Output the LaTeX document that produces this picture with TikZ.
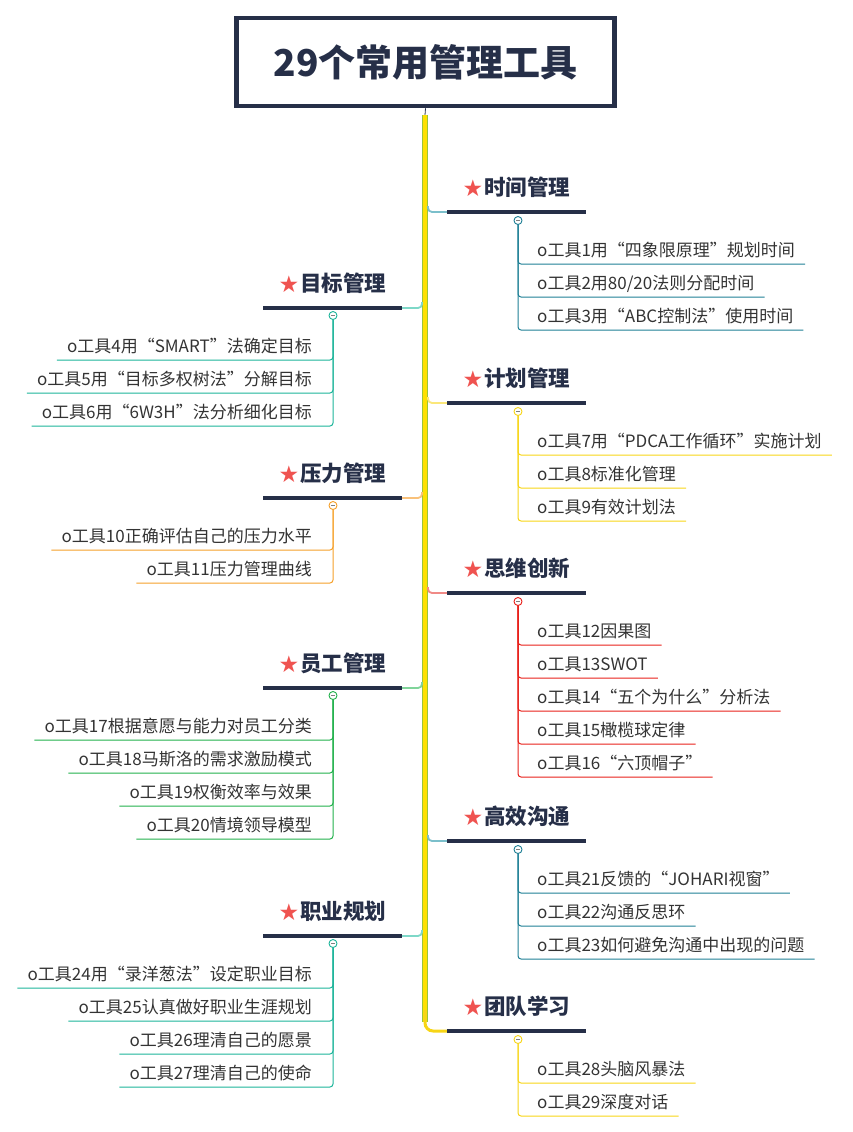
\documentclass[tikz,border=0pt]{standalone}
\usepackage{fontspec}
\setmainfont{Noto Sans CJK SC}
\newfontfamily\symfont{DejaVu Sans}
\usetikzlibrary{positioning}

\definecolor{navy}{HTML}{262F48}
\definecolor{starred}{HTML}{EF5350}
\definecolor{itemgray}{HTML}{333333}
\definecolor{trunkyellow}{HTML}{FFE000}
\definecolor{trunkgreen}{HTML}{9BC43A}
\definecolor{cTeal}{HTML}{1E7F95}
\definecolor{cTealL}{HTML}{7BBFCB}
\definecolor{cTurq}{HTML}{1CB49A}
\definecolor{cTurqL}{HTML}{7ED8C8}
\definecolor{cOrange}{HTML}{F5A02A}
\definecolor{cOrangeL}{HTML}{F9C17A}
\definecolor{cYellow}{HTML}{F7D516}
\definecolor{cYellowL}{HTML}{FBE77A}
\definecolor{cRed}{HTML}{E8201A}
\definecolor{cRedL}{HTML}{F08A86}
\definecolor{cGreen}{HTML}{22B14C}
\definecolor{cGreenL}{HTML}{80D49A}

\newcommand{\redstar}{{\symfont\color{starred}\fontsize{23}{23}\selectfont\raisebox{-1pt}{★}}\hspace{1pt}}

\tikzset{
    title/.style={draw=navy, line width=4.5pt, minimum width=378pt, minimum height=88pt,
        font=\fontsize{37}{40}\selectfont\bfseries, text=navy},
    bar/.style={fill=navy, minimum width=139pt, minimum height=4pt, inner sep=0pt},
    head/.style={font=\fontsize{21.5}{24}\selectfont\bfseries, text=navy, inner sep=0pt, text depth=4pt},
    fold/.style={circle, fill=white, line width=0.9pt, minimum size=8pt, inner sep=0pt,
        path picture={\draw[gray, line width=0.7pt] ([xshift=-2pt]path picture bounding box.center) -- ([xshift=2pt]path picture bounding box.center);}},
    item/.style={font=\fontsize{17}{19}\selectfont, text=itemgray, inner xsep=10pt, inner ysep=4pt,
        text height=14pt, text depth=3pt},
    sub/.style={line width=1pt, rounded corners=3pt},
    conn/.style={line width=1.8pt, rounded corners=4pt}
}

\begin{document}
\begin{tikzpicture}[x=1pt, y=-1pt]

        \useasboundingbox (0,0) rectangle (852,1132);

        % Title box
        \node[title] (top) at (425.5,62) {29个常用管理工具};

        % Trunk
        \coordinate (ttop) at (425,115);
        \coordinate (tbot) at (425,1022);
        \draw[navy, line width=0.8pt] (top.south) -- (ttop);
        \draw[trunkgreen, line width=6pt] (ttop) -- (tbot);
        \draw[trunkyellow, line width=4pt] (ttop) -- (tbot);

        % ---- Right side ----

        % Time management
        \node[bar] (b1) at (516.5,212) {};
        \node[head, above=10pt of b1] (h1) {\redstar 时间管理};
        \coordinate (j1) at (428,206);
        \draw[conn, cTealL] (j1) |- (b1.west);
        \node[fold, draw=cTeal] (f1) at (518,220.5) {};
        \foreach \txt [count=\i] in {o工具1用“四象限原理”规划时间, o工具2用80/20法则分配时间, o工具3用“ABC控制法”使用时间} {
            \node[item, anchor=south west] (t1-\i) at (527,{212+19+33*\i}) {\txt};
            \draw[sub, cTeal] (f1.south) |- (t1-\i.south east);
        }

        % Plan management
        \node[bar] (b3) at (516.5,403) {};
        \node[head, above=10pt of b3] (h3) {\redstar 计划管理};
        \coordinate (j3) at (428,397);
        \draw[conn, cYellowL] (j3) |- (b3.west);
        \node[fold, draw=cYellow] (f3) at (518,411.5) {};
        \foreach \txt [count=\i] in {o工具7用“PDCA工作循环”实施计划, o工具8标准化管理, o工具9有效计划法} {
            \node[item, anchor=south west] (t3-\i) at (527,{403+19+33*\i}) {\txt};
            \draw[sub, cYellow] (f3.south) |- (t3-\i.south east);
        }

        % Thinking innovation
        \node[bar] (b5) at (516.5,593) {};
        \node[head, above=10pt of b5] (h5) {\redstar 思维创新};
        \coordinate (j5) at (428,587);
        \draw[conn, cRedL] (j5) |- (b5.west);
        \node[fold, draw=cRed] (f5) at (518,601.5) {};
        \foreach \txt [count=\i] in {o工具12因果图, o工具13SWOT, o工具14“五个为什么”分析法, o工具15橄榄球定律, o工具16“六顶帽子”} {
            \node[item, anchor=south west] (t5-\i) at (527,{593+19+33*\i}) {\txt};
            \draw[sub, cRed] (f5.south) |- (t5-\i.south east);
        }

        % Communication
        \node[bar] (b7) at (516.5,841) {};
        \node[head, above=10pt of b7] (h7) {\redstar 高效沟通};
        \coordinate (j7) at (428,835);
        \draw[conn, cTealL] (j7) |- (b7.west);
        \node[fold, draw=cTeal] (f7) at (518,849.5) {};
        \foreach \txt [count=\i] in {o工具21反馈的“JOHARI视窗”, o工具22沟通反思环, o工具23如何避免沟通中出现的问题} {
            \node[item, anchor=south west] (t7-\i) at (527,{841+19+33*\i}) {\txt};
            \draw[sub, cTeal] (f7.south) |- (t7-\i.south east);
        }

        % Team learning
        \node[bar] (b9) at (516.5,1031) {};
        \node[head, above=10pt of b9] (h9) {\redstar 团队学习};
        \coordinate (j9) at (425,1010);
        \draw[cYellow, line width=3pt, rounded corners=8pt] (j9) |- (b9.west);
        \node[fold, draw=cYellow] (f9) at (518,1039.5) {};
        \foreach \txt [count=\i] in {o工具28头脑风暴法, o工具29深度对话} {
            \node[item, anchor=south west] (t9-\i) at (527,{1031+19+33*\i}) {\txt};
            \draw[sub, cYellow] (f9.south) |- (t9-\i.south east);
        }

        % ---- Left side ----

        % Goal management
        \node[bar] (b2) at (332.5,308) {};
        \node[head, above=10pt of b2] (h2) {\redstar 目标管理};
        \coordinate (j2) at (422,302);
        \draw[conn, cTurqL] (j2) |- (b2.east);
        \node[fold, draw=cTurq] (f2) at (333,315.5) {};
        \foreach \txt [count=\i] in {o工具4用“SMART”法确定目标, o工具5用“目标多权树法”分解目标, o工具6用“6W3H”法分析细化目标} {
            \node[item, anchor=south east] (t2-\i) at (322,{308+19+33*\i}) {\txt};
            \draw[sub, cTurq] (f2.south) |- (t2-\i.south west);
        }

        % Pressure management
        \node[bar] (b4) at (332.5,498) {};
        \node[head, above=10pt of b4] (h4) {\redstar 压力管理};
        \coordinate (j4) at (422,492);
        \draw[conn, cOrangeL] (j4) |- (b4.east);
        \node[fold, draw=cOrange] (f4) at (333,505.5) {};
        \foreach \txt [count=\i] in {o工具10正确评估自己的压力水平, o工具11压力管理曲线} {
            \node[item, anchor=south east] (t4-\i) at (322,{498+19+33*\i}) {\txt};
            \draw[sub, cOrange] (f4.south) |- (t4-\i.south west);
        }

        % Staff management
        \node[bar] (b6) at (332.5,688) {};
        \node[head, above=10pt of b6] (h6) {\redstar 员工管理};
        \coordinate (j6) at (422,682);
        \draw[conn, cGreenL] (j6) |- (b6.east);
        \node[fold, draw=cGreen] (f6) at (333,695.5) {};
        \foreach \txt [count=\i] in {o工具17根据意愿与能力对员工分类, o工具18马斯洛的需求激励模式, o工具19权衡效率与效果, o工具20情境领导模型} {
            \node[item, anchor=south east] (t6-\i) at (322,{688+19+33*\i}) {\txt};
            \draw[sub, cGreen] (f6.south) |- (t6-\i.south west);
        }

        % Career planning
        \node[bar] (b8) at (332.5,936) {};
        \node[head, above=10pt of b8] (h8) {\redstar 职业规划};
        \coordinate (j8) at (422,930);
        \draw[conn, cTurqL] (j8) |- (b8.east);
        \node[fold, draw=cTurq] (f8) at (333,943.5) {};
        \foreach \txt [count=\i] in {o工具24用“录洋葱法”设定职业目标, o工具25认真做好职业生涯规划, o工具26理清自己的愿景, o工具27理清自己的使命} {
            \node[item, anchor=south east] (t8-\i) at (322,{936+19+33*\i}) {\txt};
            \draw[sub, cTurq] (f8.south) |- (t8-\i.south west);
        }

\end{tikzpicture}
\end{document}
